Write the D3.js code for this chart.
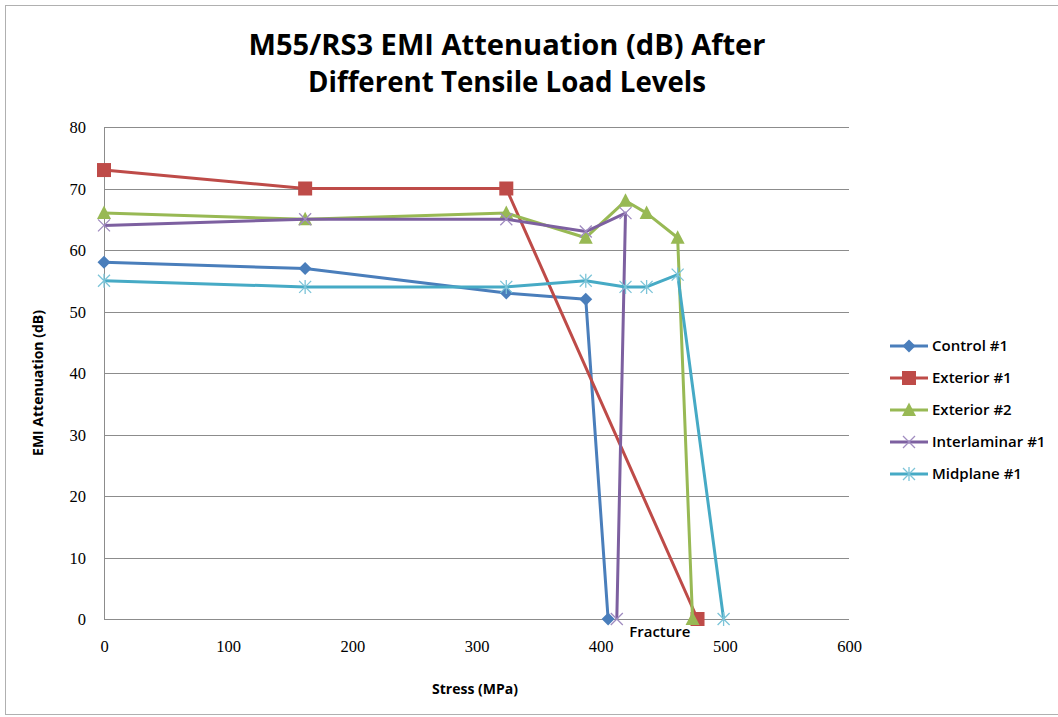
<!DOCTYPE html>
<html>
<head>
<meta charset="utf-8">
<title>EMI attenuation</title>
<style>
body { margin: 0; background: #fff; }
.tick text { font-family: "Liberation Serif", "DejaVu Serif", serif; font-size: 16.5px; fill: #000; }
.grid line { stroke: #8c8c8c; stroke-width: 1; shape-rendering: crispEdges; }
.grid path { display: none; }
.lbl { font-family: "Open Sans", "Noto Sans", sans-serif; fill: #000; }
</style>
</head>
<body>
<svg width="1058" height="717"></svg>
<script src="https://d3js.org/d3.v7.min.js"></script>
<script>
// values (stress in MPa, attenuation in dB)
var seriesNames = ["Control #1", "Exterior #1", "Exterior #2", "Interlaminar #1", "Midplane #1"];
var control1X = [0, 162, 324, 388, 406];
var control1Y = [58, 57, 53, 52, 0];
var exterior1X = [0, 162, 324, 478];
var exterior1Y = [73, 70, 70, 0];
var exterior2X = [0, 162, 324, 388, 420, 437, 462, 474];
var exterior2Y = [66, 65, 66, 62, 68, 66, 62, 0];
var interlam1X = [0, 162, 324, 388, 420, 413];
var interlam1Y = [64, 65, 65, 63, 66, 0];
var midplane1X = [0, 162, 324, 388, 420, 437, 462, 499];
var midplane1Y = [55, 54, 54, 55, 54, 54, 56, 0];
var xTicks = [0, 100, 200, 300, 400, 500, 600];
var yTicks = [0, 10, 20, 30, 40, 50, 60, 70, 80];

var colors = ["#4a7ebb", "#be4b48", "#98b954", "#7d60a0", "#46aac5"];
var shapes = ["diamond", "square", "triangle", "x", "star"];

var series = [
  {xs: control1X, ys: control1Y},
  {xs: exterior1X, ys: exterior1Y},
  {xs: exterior2X, ys: exterior2Y},
  {xs: interlam1X, ys: interlam1Y},
  {xs: midplane1X, ys: midplane1Y}
].map(function(s, i) {
  return {name: seriesNames[i], color: colors[i], shape: shapes[i],
    pts: s.xs.map(function(x, j) { return [x, s.ys[j]]; })};
});

var svg = d3.select("svg");
var margin = {top: 127, left: 104},
    width = 745, height = 492;

// outer frame
svg.append("rect").attr("x", 5.5).attr("y", 5.5).attr("width", 1070).attr("height", 709)
  .attr("fill", "none").attr("stroke", "#b0b0b0");

var g = svg.append("g").attr("transform", "translate(" + margin.left + "," + margin.top + ")");

var x = d3.scaleLinear().domain([0, 600]).range([0, width]);
var y = d3.scaleLinear().domain([0, 80]).range([height, 0]);

g.append("g").attr("class", "grid")
  .call(d3.axisLeft(y).tickValues(yTicks).tickSize(-width).tickPadding(18))
  .selectAll("text").attr("dy", "0.35em");

g.append("g").attr("class", "grid")
  .attr("transform", "translate(0," + height + ")")
  .call(d3.axisBottom(x).tickValues(xTicks).tickSize(0).tickPadding(21))
  .selectAll("line").remove();

g.append("line").attr("x1", 0).attr("x2", 0).attr("y1", 0).attr("y2", height)
  .attr("stroke", "#8c8c8c").attr("shape-rendering", "crispEdges");
g.append("line").attr("x1", 0).attr("x2", width).attr("y1", height).attr("y2", height)
  .attr("stroke", "#8c8c8c").attr("shape-rendering", "crispEdges");

function marker(sel, shape, color) {
  if (shape == "diamond") {
    sel.append("path").attr("d", "M0,-6.5L6.5,0L0,6.5L-6.5,0Z").attr("fill", color);
  } else if (shape == "square") {
    sel.append("rect").attr("x", -7).attr("y", -7).attr("width", 14).attr("height", 14).attr("fill", color);
  } else if (shape == "triangle") {
    sel.append("path").attr("d", "M0,-7.5L7,6L-7,6Z").attr("fill", color);
  } else if (shape == "x") {
    sel.append("path").attr("d", "M-6,-6L6,6M-6,6L6,-6").attr("stroke", "#a08cc0").attr("stroke-width", 1.3);
  } else {
    sel.append("path").attr("d", "M-6,-6L6,6M-6,6L6,-6M0,-7L0,7").attr("stroke", "#7cc4d8").attr("stroke-width", 1.3);
  }
}

var line = d3.line().x(function(d) { return x(d[0]); }).y(function(d) { return y(d[1]); });

series.forEach(function(s) {
  g.append("path").datum(s.pts).attr("d", line)
    .attr("fill", "none").attr("stroke", s.color).attr("stroke-width", 3)
    .attr("stroke-linejoin", "round");
  g.append("g").selectAll("g").data(s.pts).enter().append("g")
    .attr("transform", function(d) { return "translate(" + x(d[0]) + "," + y(d[1]) + ")"; })
    .each(function() { marker(d3.select(this), s.shape, s.color); });
});

g.append("text").attr("class", "lbl").attr("x", x(423)).attr("y", y(0) + 18)
  .attr("font-size", 15).attr("font-weight", 600).text("Fracture");

// titles
svg.append("text").attr("class", "lbl").attr("x", 507).attr("y", 55)
  .attr("text-anchor", "middle").attr("font-size", 28).attr("font-weight", "bold")
  .attr("textLength", 517).attr("lengthAdjust", "spacingAndGlyphs")
  .text("M55/RS3 EMI Attenuation (dB) After");
svg.append("text").attr("class", "lbl").attr("x", 507).attr("y", 92)
  .attr("text-anchor", "middle").attr("font-size", 28).attr("font-weight", "bold")
  .attr("textLength", 398).attr("lengthAdjust", "spacingAndGlyphs")
  .text("Different Tensile Load Levels");

svg.append("text").attr("class", "lbl").attr("x", 475).attr("y", 694)
  .attr("text-anchor", "middle").attr("font-size", 14).attr("font-weight", "bold")
  .text("Stress (MPa)");
svg.append("text").attr("class", "lbl")
  .attr("transform", "translate(43,383) rotate(-90)")
  .attr("text-anchor", "middle").attr("font-size", 14).attr("font-weight", "bold")
  .text("EMI Attenuation (dB)");

// legend
var legend = svg.append("g").selectAll("g").data(series).enter().append("g")
  .attr("transform", function(d, i) { return "translate(890," + (346 + i * 32) + ")"; });
legend.append("line").attr("x1", 0).attr("x2", 38)
  .attr("stroke", function(d) { return d.color; }).attr("stroke-width", 3);
legend.append("g").attr("transform", "translate(19,0)")
  .each(function(d) { marker(d3.select(this), d.shape, d.color); });
legend.append("text").attr("class", "lbl").attr("x", 42).attr("dy", "0.35em")
  .attr("font-size", 15).attr("font-weight", 600).text(function(d) { return d.name; });
</script>
</body>
</html>
